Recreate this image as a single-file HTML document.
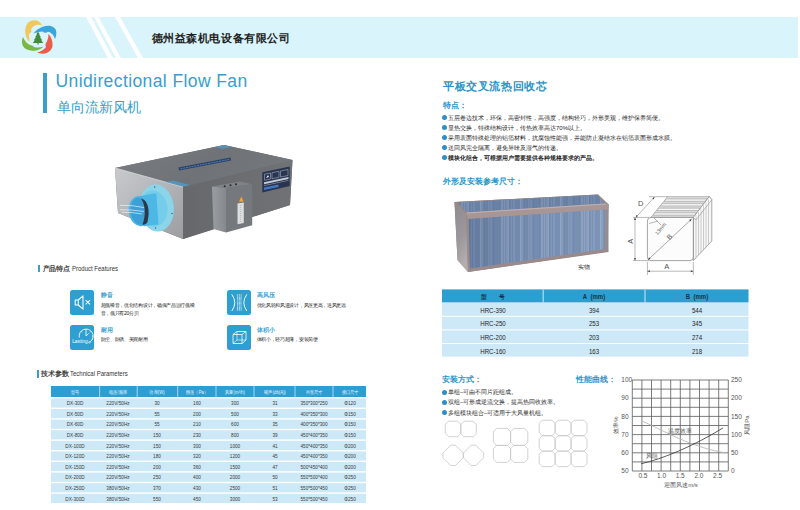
<!DOCTYPE html>
<html><head><meta charset="utf-8">
<style>
*{margin:0;padding:0;box-sizing:border-box}
html,body{width:800px;height:510px;overflow:hidden;background:#fff}
body{position:relative;font-family:"Liberation Sans",sans-serif;color:#333}
.a{position:absolute;white-space:nowrap}
#band{left:0;top:17px;width:798px;height:41px;background:#d9f4fb}
.co{left:151.5px;top:31px;font-size:11px;font-weight:bold;color:#222;letter-spacing:0.6px}
.vbar{background:#3a9fcc}
.t1{left:55.5px;top:71px;font-size:17.5px;letter-spacing:0.4px;color:#3a9dcc}
.t2{left:56.5px;top:99px;font-size:14px;color:#3a9dcc}
.sec{font-size:6.8px;color:#444;font-weight:bold;letter-spacing:-0.1px}
.sec i{font-style:normal;font-weight:normal;display:inline-block;transform-origin:0 50%;transform:scaleX(0.75);font-size:8px;color:#333;letter-spacing:0}
.tc{position:absolute;white-space:nowrap;transform:translateX(-50%) scaleX(0.84);line-height:1}
.th1{font-size:5px;color:#e8f5fb}
.td1{font-size:5.6px;color:#3a3a3a}
.th2{font-size:6.3px;color:#16324a;font-weight:bold;transform:translateX(-50%) scaleX(0.95)}
.td2{font-size:6.6px;color:#262626;transform:translateX(-50%) scaleX(0.93)}
.bl{font-size:6px;color:#262626;line-height:10px}
.bl div{position:relative}
.bl div:before{content:"";position:absolute;left:-6px;top:2.5px;width:5px;height:5px;border-radius:50%;background:#2c8fc8}
.blue{color:#2c94c8}
</style></head><body>
<div id="band" class="a"></div>
<svg class="a" style="left:0;top:17px" width="800" height="41">
<polygon points="86,0 91,0 113,41 108,41" fill="#fff"/>
<polygon points="94,0 98.5,0 121,41 116,41" fill="#fff"/>
<polygon points="115,0 120,0 143,41 138,41" fill="#fff"/>
</svg>
<svg class="a" style="left:18px;top:17px" width="42" height="42" viewBox="0 0 42 42">
<path d="M11,24.5 C7,20 6,12 9,7 C11.5,3.5 16,2.5 20,4 C22,5 23.5,7 24,8.5 C21.5,7.5 18.5,7.5 16,9 C13.5,10.5 12.5,13 13.5,15 C11.5,15.5 10.5,17.5 11,20 C11.3,22 12,23.5 11,24.5 Z" fill="#f2c85a"/>
<path d="M15.5,16.5 C18.5,12.5 24,9 30,8.8 C34.5,8.7 38,11 38.3,15 C38.5,17.5 38,20 37,22 C36,18.5 33.5,15.5 30,14.8 C28.5,16 26,16 24.5,14.5 C21.5,14.5 18.5,15.5 15.5,16.5 Z" fill="#3ba5de"/>
<path d="M30.5,17 C33.5,20 35,25 34.5,29 C34,33 30,36.5 25,36.7 C22.5,36.8 20.5,36.2 19.2,35.5 C22.5,34.5 26,33 28,30 C27,28.5 27.5,26 29,24.5 C30,22 30.5,19.5 30.5,17 Z" fill="#e95e48"/>
<path d="M5,20 C3.5,23.5 3.5,28 6.5,31 C9.5,33.5 14,34 18,33.5 C21,33 23.5,31.5 25.5,29.5 C22.5,30.5 19,31 16,30 C15,28.5 12.5,28 11,27.5 C8.5,26 6.5,23.5 5,20 Z" fill="#78b843"/>
<path d="M20,14.8 L21.8,17.5 H21 L23,20.2 H22 L24.2,23.2 H23.2 L25.2,26 H14.8 L16.8,23.2 H15.8 L18,20.2 H17 L19,17.5 H18.2 Z" fill="#428c3c"/>
<rect x="19.4" y="25.5" width="1.2" height="2" fill="#428c3c"/>
</svg>
<div class="a co">德州益森机电设备有限公司</div>

<div class="a vbar" style="left:43px;top:73px;width:3.5px;height:40px"></div>
<div class="a t1">Unidirectional Flow Fan</div>
<div class="a t2">单向流新风机</div>


<svg class="a" style="left:0;top:0" width="800" height="510" viewBox="0 0 800 510">
<defs>
<linearGradient id="gTop" x1="0" y1="0" x2="1" y2="0.3"><stop offset="0" stop-color="#7a7d81"/><stop offset="0.6" stop-color="#6f7276"/><stop offset="1" stop-color="#74777b"/></linearGradient>
<linearGradient id="gLeft" x1="0" y1="0" x2="1" y2="1"><stop offset="0" stop-color="#c9cacd"/><stop offset="0.5" stop-color="#b3b4b8"/><stop offset="1" stop-color="#9c9da1"/></linearGradient>
<linearGradient id="gRight" x1="0" y1="0" x2="1" y2="0"><stop offset="0" stop-color="#66686c"/><stop offset="1" stop-color="#707276"/></linearGradient>
<linearGradient id="gPipe" x1="0" y1="0" x2="1" y2="0"><stop offset="0" stop-color="#3aa6d8"/><stop offset="1" stop-color="#63c2e6"/></linearGradient>
<linearGradient id="gFade" x1="0" y1="0" x2="0" y2="1"><stop offset="0" stop-color="#fff" stop-opacity="0"/><stop offset="1" stop-color="#fff" stop-opacity="0.85"/></linearGradient>
</defs>
<!-- fan box -->
<polygon points="115,168 224,145 292.5,160 290,205 183,239 118,213" fill="#6e7175"/>
<polygon points="115,168 224,145 292.5,160 183,187" fill="url(#gTop)"/>
<polygon points="115,168 183,187 183,239 118,213" fill="url(#gLeft)"/>

<polygon points="183,187 292.5,160 290,205 183,239" fill="url(#gRight)"/>
<line x1="115" y1="168" x2="183" y2="187" stroke="#d8d9dc" stroke-width="0.8"/>

<!-- top label -->
<polygon points="178.5,167.5 230.5,157.5 231,160.5 179,170.5" fill="#2d4164"/><path d="M180.5,168.8 L229,159.5" stroke="#4f86cc" stroke-width="0.9" stroke-dasharray="2 0.8"/>
<polygon points="166,182 183,186.5 190,185 173,180.5" fill="#4aa3dc" opacity="0.7"/>
<polygon points="215,147 224,145 232,147 222,149" fill="#4aa3dc" opacity="0.6"/>
<!-- control panel -->
<polygon points="262.3,172.2 289.7,166.5 289.7,185.9 262.3,192.5" fill="#29344f"/>
<g fill="none" stroke="#c9d3e6" stroke-width="0.5" opacity="0.9">
<path d="M264.5,174.2 L270.5,173 L270.5,179 L264.5,180.2 Z M272,172.7 L279,171.3 L279,177.3 L272,178.7 Z M280.5,171 L288,169.5 L288,175.5 L280.5,177 Z"/>
</g>
<g fill="#e8ecf4"><path d="M266,178 l2,-3 l1,2 z"/><rect x="274" y="173.5" width="3" height="2" transform="skewY(-11) translate(0 52)" opacity="0"/></g>
<polygon points="264,182.2 288.5,177 288.5,179 264,184.2" fill="#dfe5ee" opacity="0.85"/>
<polygon points="264,185.2 288.5,180 288.5,180.7 264,185.9" fill="#b8c4d6" opacity="0.6"/>
<polygon points="264,187.5 278.5,184.5 278.5,187 264,190" fill="#3f78c4"/>
<!-- electric box -->
<defs><linearGradient id="gEL" x1="0" y1="0" x2="1" y2="0"><stop offset="0" stop-color="#9a9da1"/><stop offset="1" stop-color="#85888c"/></linearGradient></defs>
<polygon points="212,186.5 240,181.5 252.2,184.3 226,188" fill="#7f8286"/>
<polygon points="212,186.5 226,188 226,232.5 213.5,229" fill="url(#gEL)"/>
<polygon points="226,188 252.2,184.3 252.2,225.3 226,232.5" fill="#75787c"/>
<circle cx="224.7" cy="186.2" r="1" fill="#2a2c30"/><circle cx="230.5" cy="185.2" r="1" fill="#2a2c30"/><circle cx="236" cy="184.2" r="1" fill="#2a2c30"/>
<polygon points="241.3,196.5 243.6,201.5 239,201.8" fill="#f0a536"/>
<polygon points="237.5,203.5 243.8,202.5 243.8,223 237.5,224.2" fill="#dcdddf"/>
<path d="M240.6,205 V222" stroke="#888" stroke-width="0.4" stroke-dasharray="1 1"/>
<!-- duct flange -->
<ellipse cx="156.5" cy="208" rx="17.3" ry="23.6" fill="#8ad5ea" transform="rotate(-6 156.5 208)"/>
<ellipse cx="153.5" cy="208.5" rx="14" ry="18" fill="#76cdea" transform="rotate(-6 153.5 208.5)"/>
<circle cx="154.7" cy="187" r="0.7" fill="#555"/><circle cx="172" cy="213.5" r="0.7" fill="#555"/><circle cx="155.5" cy="228" r="0.7" fill="#555"/>
<!-- pipe body -->
<polygon points="134.3,197 156.3,193.2 158.5,224.5 143.6,226.2" fill="#4db8e6"/>
<ellipse cx="139.5" cy="211.3" rx="10.8" ry="15" fill="#4ab5e4" transform="rotate(-8 139.5 211.3)"/>
<ellipse cx="139.8" cy="211.3" rx="9.2" ry="13.6" fill="#3c9fd6" transform="rotate(-8 139.8 211.3)"/>
<path d="M141,198.5 C148,200 150,210 147.5,222 C146,224.5 144,225 142.5,224.5 C146,215 145.5,205 141,198.5 Z" fill="#2a3848"/>
<path d="M120,205.3 Q132,205 144,207.5 M120,209.7 Q132,209.5 144,211.5 M122,212.3 Q132,212 142,214" stroke="#e8f4fa" stroke-width="0.9" fill="none" opacity="0.75"/>
</svg>

<!-- section titles -->
<div class="a vbar" style="left:37.5px;top:264.5px;width:2px;height:7.5px"></div>
<div class="a sec" style="left:42.5px;top:263.5px">产品特点 <i>Product Features</i></div>
<div class="a vbar" style="left:36.5px;top:370px;width:2px;height:7.5px"></div>
<div class="a sec" style="left:41px;top:369px">技术参数 <i>Technical Parameters</i></div>


<style>
.ic{position:absolute;width:24.5px;height:25px;background:#2d9fd1;border-radius:2.5px}
.ft{position:absolute;font-size:6px;color:#3d9fcf;font-weight:bold;white-space:nowrap}
.fd{position:absolute;font-size:5px;color:#222;line-height:8.3px;white-space:nowrap;letter-spacing:-0.3px}
</style>
<div class="ic" style="left:69.8px;top:290.2px"><svg width="25" height="25" viewBox="0 0 25 25"><g fill="none" stroke="#fff" stroke-width="1.05" stroke-linejoin="round"><path d="M5.2,10 H8.2 L13,5.8 V19.2 L8.2,15 H5.2 Z"/><path d="M8.2,10 V15"/><path d="M15.6,10.2 L20,14.4 M20,10.2 L15.6,14.4"/></g></svg></div>
<div class="ic" style="left:69.8px;top:324.8px"><svg width="25" height="25" viewBox="0 0 25 25"><g fill="none" stroke="#fff" stroke-width="0.85"><path d="M9.3,12.5 A7,7 0 1 1 20.8,16.3"/><path d="M16,4.3 V11 L18.8,8.4"/><path d="M11.3,6.5 L12,7.4 M20.7,6.5 L20,7.4 M23,11 L22,11.2 M22.5,14.5 L21.5,14.2"/></g><text x="2.4" y="17.9" font-size="5.2" fill="#fff" font-family="Liberation Sans" transform="scale(0.92 1)">Lasting</text><path d="M18,17.5 L20.5,16.3 L19.5,18.5" fill="none" stroke="#fff" stroke-width="0.7"/></svg></div>
<div class="ic" style="left:226.7px;top:290.3px"><svg width="25" height="25" viewBox="0 0 25 25"><g fill="none" stroke="#fff" stroke-width="0.95"><path d="M4.8,4.4 Q10.8,12.7 4.8,21"/><path d="M19.8,4.4 Q13.8,12.7 19.8,21"/><path d="M10.3,4.4 Q11,12.7 10.3,21" stroke-dasharray="0.8 0.45"/><path d="M14.3,4.4 Q13.6,12.7 14.3,21" stroke-dasharray="0.8 0.45"/><path d="M12.3,4.4 V21" stroke-dasharray="0.8 0.45"/></g></svg></div>
<div class="ic" style="left:226.7px;top:324.8px"><svg width="25" height="25" viewBox="0 0 25 25"><g fill="none" stroke="#fff" stroke-width="0.8"><path d="M6,9.5 L10,6.5 H19 V15 L15,18.5 H6 Z"/><path d="M6,9.5 H15 V18.5 M15,9.5 L19,6.5"/><path d="M10,6.5 V15 H19 M10,15 L6,18.5" opacity="0.75"/></g></svg></div>
<div class="ft" style="left:100.5px;top:291px">静音</div>
<div class="fd" style="left:100.5px;top:300.5px">超低噪音，优化结构设计，确保产品运行低噪<br>音，低只有20分贝</div>
<div class="ft" style="left:100.5px;top:325.5px">耐用</div>
<div class="fd" style="left:100.5px;top:335px">防尘、防锈、美观耐用</div>
<div class="ft" style="left:256.5px;top:291px">高风压</div>
<div class="fd" style="left:256.5px;top:300.5px">优化风轮和风道设计，风压更高，送风更远</div>
<div class="ft" style="left:256.5px;top:325.5px">体积小</div>
<div class="fd" style="left:256.5px;top:335px">体积小，轻巧超薄，安装简便</div>

<svg class="a" style="left:0;top:0" width="800" height="510"><rect x="51" y="386" width="315" height="11" fill="#2c9fd0"/><rect x="99.1" y="386" width="1" height="11" fill="#a6d6ec"/><rect x="136.7" y="386" width="1" height="11" fill="#a6d6ec"/><rect x="177.2" y="386" width="1" height="11" fill="#a6d6ec"/><rect x="215.5" y="386" width="1" height="11" fill="#a6d6ec"/><rect x="253.5" y="386" width="1" height="11" fill="#a6d6ec"/><rect x="294.5" y="386" width="1" height="11" fill="#a6d6ec"/><rect x="332.5" y="386" width="1" height="11" fill="#a6d6ec"/><rect x="51" y="398.40" width="315" height="9.2" fill="#cde9f8"/><rect x="51" y="409.00" width="315" height="9.2" fill="#cde9f8"/><rect x="51" y="419.60" width="315" height="9.2" fill="#cde9f8"/><rect x="51" y="430.20" width="315" height="9.2" fill="#cde9f8"/><rect x="51" y="440.80" width="315" height="9.2" fill="#cde9f8"/><rect x="51" y="451.40" width="315" height="9.2" fill="#cde9f8"/><rect x="51" y="462.00" width="315" height="9.2" fill="#cde9f8"/><rect x="51" y="472.60" width="315" height="9.2" fill="#cde9f8"/><rect x="51" y="483.20" width="315" height="9.2" fill="#cde9f8"/><rect x="51" y="493.80" width="315" height="9.2" fill="#cde9f8"/></svg>
<div class="a" style="left:0;top:0;width:800px;height:510px">
<div class="tc th1" style="left:75.3px;top:389.8px">型号</div>
<div class="tc th1" style="left:118.4px;top:389.8px">电压/频率</div>
<div class="tc th1" style="left:157.4px;top:389.8px">功率(W)</div>
<div class="tc th1" style="left:196.8px;top:389.8px">静压（Pa）</div>
<div class="tc th1" style="left:235.0px;top:389.8px">风量(m³/h)</div>
<div class="tc th1" style="left:274.5px;top:389.8px">噪声(db(A))</div>
<div class="tc th1" style="left:314.0px;top:389.8px">外形尺寸</div>
<div class="tc th1" style="left:349.5px;top:389.8px">接口尺寸</div>
<div class="tc td1" style="left:75.3px;top:401.2px">DX-30D</div>
<div class="tc td1" style="left:118.4px;top:401.2px">220V/50Hz</div>
<div class="tc td1" style="left:157.4px;top:401.2px">30</div>
<div class="tc td1" style="left:196.8px;top:401.2px">160</div>
<div class="tc td1" style="left:235.0px;top:401.2px">300</div>
<div class="tc td1" style="left:274.5px;top:401.2px">31</div>
<div class="tc td1" style="left:314.0px;top:401.2px">350*300*250</div>
<div class="tc td1" style="left:349.5px;top:401.2px">Φ120</div>
<div class="tc td1" style="left:75.3px;top:411.8px">DX-50D</div>
<div class="tc td1" style="left:118.4px;top:411.8px">220V/50Hz</div>
<div class="tc td1" style="left:157.4px;top:411.8px">55</div>
<div class="tc td1" style="left:196.8px;top:411.8px">200</div>
<div class="tc td1" style="left:235.0px;top:411.8px">500</div>
<div class="tc td1" style="left:274.5px;top:411.8px">33</div>
<div class="tc td1" style="left:314.0px;top:411.8px">400*350*300</div>
<div class="tc td1" style="left:349.5px;top:411.8px">Φ150</div>
<div class="tc td1" style="left:75.3px;top:422.4px">DX-60D</div>
<div class="tc td1" style="left:118.4px;top:422.4px">220V/50Hz</div>
<div class="tc td1" style="left:157.4px;top:422.4px">55</div>
<div class="tc td1" style="left:196.8px;top:422.4px">210</div>
<div class="tc td1" style="left:235.0px;top:422.4px">600</div>
<div class="tc td1" style="left:274.5px;top:422.4px">35</div>
<div class="tc td1" style="left:314.0px;top:422.4px">400*350*300</div>
<div class="tc td1" style="left:349.5px;top:422.4px">Φ150</div>
<div class="tc td1" style="left:75.3px;top:433.0px">DX-80D</div>
<div class="tc td1" style="left:118.4px;top:433.0px">220V/50Hz</div>
<div class="tc td1" style="left:157.4px;top:433.0px">150</div>
<div class="tc td1" style="left:196.8px;top:433.0px">230</div>
<div class="tc td1" style="left:235.0px;top:433.0px">800</div>
<div class="tc td1" style="left:274.5px;top:433.0px">39</div>
<div class="tc td1" style="left:314.0px;top:433.0px">450*400*350</div>
<div class="tc td1" style="left:349.5px;top:433.0px">Φ150</div>
<div class="tc td1" style="left:75.3px;top:443.6px">DX-100D</div>
<div class="tc td1" style="left:118.4px;top:443.6px">220V/50Hz</div>
<div class="tc td1" style="left:157.4px;top:443.6px">150</div>
<div class="tc td1" style="left:196.8px;top:443.6px">300</div>
<div class="tc td1" style="left:235.0px;top:443.6px">1000</div>
<div class="tc td1" style="left:274.5px;top:443.6px">41</div>
<div class="tc td1" style="left:314.0px;top:443.6px">450*400*350</div>
<div class="tc td1" style="left:349.5px;top:443.6px">Φ200</div>
<div class="tc td1" style="left:75.3px;top:454.2px">DX-120D</div>
<div class="tc td1" style="left:118.4px;top:454.2px">220V/50Hz</div>
<div class="tc td1" style="left:157.4px;top:454.2px">180</div>
<div class="tc td1" style="left:196.8px;top:454.2px">320</div>
<div class="tc td1" style="left:235.0px;top:454.2px">1200</div>
<div class="tc td1" style="left:274.5px;top:454.2px">45</div>
<div class="tc td1" style="left:314.0px;top:454.2px">450*400*350</div>
<div class="tc td1" style="left:349.5px;top:454.2px">Φ200</div>
<div class="tc td1" style="left:75.3px;top:464.8px">DX-150D</div>
<div class="tc td1" style="left:118.4px;top:464.8px">220V/50Hz</div>
<div class="tc td1" style="left:157.4px;top:464.8px">200</div>
<div class="tc td1" style="left:196.8px;top:464.8px">360</div>
<div class="tc td1" style="left:235.0px;top:464.8px">1500</div>
<div class="tc td1" style="left:274.5px;top:464.8px">47</div>
<div class="tc td1" style="left:314.0px;top:464.8px">500*450*400</div>
<div class="tc td1" style="left:349.5px;top:464.8px">Φ200</div>
<div class="tc td1" style="left:75.3px;top:475.4px">DX-200D</div>
<div class="tc td1" style="left:118.4px;top:475.4px">220V/50Hz</div>
<div class="tc td1" style="left:157.4px;top:475.4px">250</div>
<div class="tc td1" style="left:196.8px;top:475.4px">400</div>
<div class="tc td1" style="left:235.0px;top:475.4px">2000</div>
<div class="tc td1" style="left:274.5px;top:475.4px">50</div>
<div class="tc td1" style="left:314.0px;top:475.4px">550*500*400</div>
<div class="tc td1" style="left:349.5px;top:475.4px">Φ250</div>
<div class="tc td1" style="left:75.3px;top:486.0px">DX-250D</div>
<div class="tc td1" style="left:118.4px;top:486.0px">380V/50Hz</div>
<div class="tc td1" style="left:157.4px;top:486.0px">370</div>
<div class="tc td1" style="left:196.8px;top:486.0px">430</div>
<div class="tc td1" style="left:235.0px;top:486.0px">2500</div>
<div class="tc td1" style="left:274.5px;top:486.0px">51</div>
<div class="tc td1" style="left:314.0px;top:486.0px">550*500*450</div>
<div class="tc td1" style="left:349.5px;top:486.0px">Φ250</div>
<div class="tc td1" style="left:75.3px;top:496.6px">DX-300D</div>
<div class="tc td1" style="left:118.4px;top:496.6px">380V/50Hz</div>
<div class="tc td1" style="left:157.4px;top:496.6px">550</div>
<div class="tc td1" style="left:196.8px;top:496.6px">450</div>
<div class="tc td1" style="left:235.0px;top:496.6px">3000</div>
<div class="tc td1" style="left:274.5px;top:496.6px">53</div>
<div class="tc td1" style="left:314.0px;top:496.6px">550*500*450</div>
<div class="tc td1" style="left:349.5px;top:496.6px">Φ250</div>
</div>

<!-- right page -->
<div class="a blue" style="left:443px;top:78.5px;font-size:11.4px;font-weight:bold;letter-spacing:0.6px">平板交叉流热回收芯</div>
<div class="a blue" style="left:443px;top:99.5px;font-size:8px;font-weight:bold">特点：</div>
<div class="a bl" style="left:448px;top:112.8px">
<div>五层卷边技术，环保，高密封性，高强度，结构轻巧，外形美观，维护保养简便。</div>
<div>显热交换，特殊结构设计，传热效率高达70%以上。</div>
<div>采用表面特殊处理的铝箔材料，抗腐蚀性能强，并能防止凝结水在铝箔表面形成水膜。</div>
<div>送回风完全隔离，避免异味及湿气的传递。</div>
<div style="font-weight:bold;color:#222">模块化组合，可根据用户需要提供各种规格要求的产品。</div>
</div>
<div class="a blue" style="left:442.5px;top:175.5px;font-size:8px;font-weight:bold">外形及安装参考尺寸：</div>


<svg class="a" style="left:0;top:0" width="800" height="510" viewBox="0 0 800 510">
<defs>
<pattern id="stripes" width="40" height="10" patternUnits="userSpaceOnUse"><rect width="40" height="10" fill="#7089b0"/><rect x="0.0" width="0.7" height="10" fill="#a0b2cc" opacity="0.9"/><rect x="1.5" width="1" height="10" fill="#a0b2cc" opacity="0.7"/><rect x="2.9" width="0.5" height="10" fill="#7089ae" opacity="0.7"/><rect x="4.2" width="0.7" height="10" fill="#65809f" opacity="0.7"/><rect x="6.5" width="1.3" height="10" fill="#65809f" opacity="0.5"/><rect x="8.6" width="0.7" height="10" fill="#a0b2cc" opacity="0.7"/><rect x="9.7" width="0.5" height="10" fill="#6d86ab" opacity="0.9"/><rect x="10.6" width="1" height="10" fill="#8aa2c4" opacity="0.7"/><rect x="13.2" width="1.3" height="10" fill="#65809f" opacity="0.7"/><rect x="16.1" width="1.3" height="10" fill="#6d86ab" opacity="0.7"/><rect x="17.8" width="0.5" height="10" fill="#6d86ab" opacity="0.7"/><rect x="19.1" width="1" height="10" fill="#65809f" opacity="0.7"/><rect x="21.3" width="1.3" height="10" fill="#a0b2cc" opacity="0.7"/><rect x="23.8" width="1.3" height="10" fill="#a0b2cc" opacity="0.5"/><rect x="26.3" width="0.5" height="10" fill="#93a9c8" opacity="0.9"/><rect x="27.6" width="1" height="10" fill="#a0b2cc" opacity="0.9"/><rect x="29.0" width="0.7" height="10" fill="#65809f" opacity="0.9"/><rect x="30.9" width="1" height="10" fill="#8aa2c4" opacity="0.5"/><rect x="33.5" width="1.3" height="10" fill="#8aa2c4" opacity="0.7"/><rect x="35.2" width="1.3" height="10" fill="#6d86ab" opacity="0.5"/><rect x="37.7" width="1.3" height="10" fill="#7089ae" opacity="0.5"/><rect x="39.4" width="0.5" height="10" fill="#7089ae" opacity="0.9"/></pattern>
<linearGradient id="gCasL" x1="0" y1="0" x2="0.3" y2="1"><stop offset="0" stop-color="#8f8a8e"/><stop offset="0.6" stop-color="#9c979a"/><stop offset="1" stop-color="#b3adb0"/></linearGradient>
<linearGradient id="gShade" x1="0" y1="0" x2="1" y2="0"><stop offset="0" stop-color="#2a3550" stop-opacity="0.2"/><stop offset="0.5" stop-color="#a8b4c8" stop-opacity="0.1"/><stop offset="1" stop-color="#c8d2e2" stop-opacity="0.15"/></linearGradient>
</defs>
<polygon points="454.5,202 598,194.5 608.5,204.5 608.5,252 468,272 457.5,260" fill="#978587"/>
<polygon points="454.5,202 598,194.5 608.5,204.5 466,213.5" fill="#988789"/>
<polygon points="458,202.5 597,195 604.5,203.5 466.5,212.5" fill="url(#stripes)"/>
<polygon points="458,202.5 597,195 604.5,203.5 466.5,212.5" fill="#56688a" opacity="0.22"/>
<polygon points="454.5,202 466,213.5 468,272 457.5,260" fill="url(#gCasL)"/>
<polygon points="466,212.5 608.5,204 607.5,251.5 468,272" fill="#9b8a8c"/>
<polygon points="466,212.5 604.5,203.5 608.5,204.5 608.5,209.5 468,219" fill="#a89697"/>
<line x1="467" y1="213" x2="606" y2="204" stroke="#c5b9b9" stroke-width="0.8"/>
<polygon points="468.5,219 605.5,209.5 605,249 470,268.5" fill="url(#stripes)"/>
<polygon points="468.5,219 605.5,209.5 605,249 470,268.5" fill="url(#gShade)"/>
</svg>
<div class="a" style="left:578px;top:263px;font-size:6px;color:#333">实物</div>
<svg class="a" style="left:620px;top:190px" width="110" height="90" viewBox="0 0 110 90">
<g fill="none" stroke="#707070" stroke-width="0.6">
<path d="M31,27.4 L47.7,6.7 H89.2 L73.3,27.4 Z" fill="#f6f6f6"/>
<path d="M73.3,27.4 L89.2,6.7 L91.8,9.7 V51 L73.3,70.6 Z" fill="#f6f6f6"/>
<polygon points="47.70,6.70 89.20,6.70 87.43,9.00 45.84,9.00" fill="#d9d9d9" stroke="none"/><polygon points="43.99,11.30 85.67,11.30 83.90,13.60 42.13,13.60" fill="#d9d9d9" stroke="none"/><polygon points="40.28,15.90 82.13,15.90 80.37,18.20 38.42,18.20" fill="#d9d9d9" stroke="none"/><polygon points="36.57,20.50 78.60,20.50 76.83,22.80 34.71,22.80" fill="#d9d9d9" stroke="none"/><polygon points="32.86,25.10 75.07,25.10 73.30,27.40 31.00,27.40" fill="#d9d9d9" stroke="none"/><path d="M45.84,9.00 H87.43 M43.99,11.30 H85.67 M42.13,13.60 H83.90 M40.28,15.90 H82.13 M38.42,18.20 H80.37 M36.57,20.50 H78.60 M34.71,22.80 H76.83 M32.86,25.10 H75.07" stroke="#8a8a8a" stroke-width="0.45"/><path d="M89.2,6.7 L91.8,9.7 L75.8,30 L73.3,27.4 Z" fill="#fff" stroke="#707070" stroke-width="0.5"/>
<path d="M76,25 V67.5 M78.5,22 V65 M81,18.5 V62.5 M83.5,15.5 V60 M86,12.5 V57 M88.5,9.5 V54" stroke="#a0a0a0" stroke-width="0.5"/>
<path d="M31,27.4 Q27.4,27.4 27.4,31 V67 Q27.4,70.6 31,70.6 H70 Q73.3,70.6 73.3,67 V27.4 Z" fill="#fcfcfc" stroke="#6a6a6a"/>
<path d="M15,27.4 V70.6 M13,27.4 H29 M13,70.6 H29" stroke-width="0.5"/>
<path d="M27.4,72 V85 M73.3,72 V85 M27.4,81.2 H73.3" stroke-width="0.5"/>
<path d="M15.9,27.4 L34.4,7 M29,6.7 H48" stroke-width="0.5"/>
<path d="M28.2,69.7 L71.5,29.1" stroke-width="0.6"/>
<path d="M29,33.5 L38,31 M34,28 L41,35" stroke-width="0.5"/>
</g>
<g fill="#444" stroke="none">
<path d="M15,27.4 l-1,2.5 h2 z M15,70.6 l-1,-2.5 h2 z M27.4,81.2 l2.5,-1 v2 z M73.3,81.2 l-2.5,-1 v2 z M15.9,27.4 l0.6,-2.6 1.4,1.3 z M34.4,7 l-0.6,2.6 -1.4,-1.3 z M28.2,69.7 l0.8,-2.5 1.6,1.6 z M71.5,29.1 l-0.8,2.5 -1.6,-1.6 z"/>
</g>
<g fill="#555" font-family="Liberation Sans">
<text x="9.7" y="54" font-size="7.5" transform="rotate(-90 9.7 51.2)" text-anchor="middle">A</text>
<text x="46.8" y="78.6" font-size="7.5" text-anchor="middle">A</text>
<text x="20.8" y="15.8" font-size="7.5" text-anchor="middle">D</text>
<text x="49.4" y="49.3" font-size="7" transform="rotate(-44 49.4 46.8)" text-anchor="middle">B</text>
<text x="40.6" y="40.5" font-size="5" transform="rotate(-50 40.6 38.8)" text-anchor="middle">13mm</text>
</g>
</svg>

<svg class="a" style="left:0;top:0" width="800" height="510"><rect x="442" y="289.4" width="306.5" height="13.2" fill="#2c9fd0"/><rect x="542.6" y="289.4" width="1.2" height="13.2" fill="#b5ddef"/><rect x="644.4" y="289.4" width="1.2" height="13.2" fill="#b5ddef"/><rect x="442" y="302.60" width="306.5" height="13.2" fill="#cde9f8"/><rect x="442" y="316.80" width="306.5" height="12.6" fill="#cde9f8"/><rect x="442" y="330.40" width="306.5" height="12.6" fill="#cde9f8"/><rect x="442" y="344.00" width="306.5" height="12.6" fill="#cde9f8"/></svg>
<div class="tc th2" style="left:492.6px;top:294.3px">型 &nbsp; &nbsp; &nbsp; 号</div>
<div class="tc th2" style="left:594.1px;top:294.3px">A&nbsp;&nbsp;(mm)</div>
<div class="tc th2" style="left:696.8px;top:294.3px">B&nbsp;&nbsp;(mm)</div>
<div class="tc td2" style="left:492.6px;top:307.8px">HRC-390</div>
<div class="tc td2" style="left:594.1px;top:307.8px">394</div>
<div class="tc td2" style="left:696.8px;top:307.8px">544</div>
<div class="tc td2" style="left:492.6px;top:321.4px">HRC-250</div>
<div class="tc td2" style="left:594.1px;top:321.4px">253</div>
<div class="tc td2" style="left:696.8px;top:321.4px">345</div>
<div class="tc td2" style="left:492.6px;top:335.0px">HRC-200</div>
<div class="tc td2" style="left:594.1px;top:335.0px">203</div>
<div class="tc td2" style="left:696.8px;top:335.0px">274</div>
<div class="tc td2" style="left:492.6px;top:348.6px">HRC-160</div>
<div class="tc td2" style="left:594.1px;top:348.6px">163</div>
<div class="tc td2" style="left:696.8px;top:348.6px">218</div>

<div class="a blue" style="left:442px;top:374.5px;font-size:7.6px;font-weight:bold">安装方式：</div>
<div class="a blue" style="left:576px;top:374.5px;font-size:7.6px;font-weight:bold">性能曲线：</div>
<div class="a bl" style="left:448px;top:387px;line-height:10.3px">
<div>单组–可由不同片距组成。</div>
<div>双组–可形成逆流交换，提高热回收效率。</div>
<div>多组模块组合–可适用于大风量机组。</div>
</div>
<svg class="a" style="left:0;top:0" width="800" height="510"><g fill="none" stroke="#c6c6c6" stroke-width="0.8" stroke-linejoin="round"><polygon points="448.50,421.20 457.60,421.20 460.80,424.40 460.80,433.50 457.60,436.70 448.50,436.70 445.30,433.50 445.30,424.40"/><polygon points="464.00,421.20 473.10,421.20 476.30,424.40 476.30,433.50 473.10,436.70 464.00,436.70 460.80,433.50 460.80,424.40"/><polygon points="450.80,445.15 455.40,445.15 463.30,453.05 463.30,457.65 455.40,465.55 450.80,465.55 442.90,457.65 442.90,453.05"/><polygon points="471.20,445.15 475.80,445.15 483.70,453.05 483.70,457.65 475.80,465.55 471.20,465.55 463.30,457.65 463.30,453.05"/><polygon points="496.70,428.40 507.30,428.40 510.60,431.70 510.60,442.10 507.30,445.40 496.70,445.40 493.40,442.10 493.40,431.70"/><polygon points="496.70,445.40 507.30,445.40 510.60,448.70 510.60,459.10 507.30,462.40 496.70,462.40 493.40,459.10 493.40,448.70"/><polygon points="513.90,428.40 524.50,428.40 527.80,431.70 527.80,442.10 524.50,445.40 513.90,445.40 510.60,442.10 510.60,431.70"/><polygon points="513.90,445.40 524.50,445.40 527.80,448.70 527.80,459.10 524.50,462.40 513.90,462.40 510.60,459.10 510.60,448.70"/><polygon points="542.30,420.20 552.03,420.20 555.13,423.30 555.13,432.57 552.03,435.67 542.30,435.67 539.20,432.57 539.20,423.30"/><polygon points="542.30,435.67 552.03,435.67 555.13,438.77 555.13,448.04 552.03,451.14 542.30,451.14 539.20,448.04 539.20,438.77"/><polygon points="542.30,451.14 552.03,451.14 555.13,454.24 555.13,463.51 552.03,466.61 542.30,466.61 539.20,463.51 539.20,454.24"/><polygon points="558.23,420.20 567.96,420.20 571.06,423.30 571.06,432.57 567.96,435.67 558.23,435.67 555.13,432.57 555.13,423.30"/><polygon points="558.23,435.67 567.96,435.67 571.06,438.77 571.06,448.04 567.96,451.14 558.23,451.14 555.13,448.04 555.13,438.77"/><polygon points="558.23,451.14 567.96,451.14 571.06,454.24 571.06,463.51 567.96,466.61 558.23,466.61 555.13,463.51 555.13,454.24"/><polygon points="574.16,420.20 583.89,420.20 586.99,423.30 586.99,432.57 583.89,435.67 574.16,435.67 571.06,432.57 571.06,423.30"/><polygon points="574.16,435.67 583.89,435.67 586.99,438.77 586.99,448.04 583.89,451.14 574.16,451.14 571.06,448.04 571.06,438.77"/><polygon points="574.16,451.14 583.89,451.14 586.99,454.24 586.99,463.51 583.89,466.61 574.16,466.61 571.06,463.51 571.06,454.24"/></g></svg>
<svg class="a" style="left:0;top:0" width="800" height="510"><path d="M632.30,380.0 V471.0 M632.3,380.00 H728.3 M641.90,380.0 V471.0 M632.3,389.10 H728.3 M651.50,380.0 V471.0 M632.3,398.20 H728.3 M661.10,380.0 V471.0 M632.3,407.30 H728.3 M670.70,380.0 V471.0 M632.3,416.40 H728.3 M680.30,380.0 V471.0 M632.3,425.50 H728.3 M689.90,380.0 V471.0 M632.3,434.60 H728.3 M699.50,380.0 V471.0 M632.3,443.70 H728.3 M709.10,380.0 V471.0 M632.3,452.80 H728.3 M718.70,380.0 V471.0 M632.3,461.90 H728.3 M728.30,380.0 V471.0 M632.3,471.00 H728.3" stroke="#5a5a5a" stroke-width="0.8" fill="none"/><path d="M642.5,421.3 C665,431 690,447 726,453" stroke="#b4b4b4" stroke-width="0.85" fill="none"/><path d="M641.3,463.7 C662,459 692,447 723.1,427.9" stroke="#333" stroke-width="0.8" fill="none"/><g font-family="Liberation Sans" font-size="6.5" fill="#555"><text x="621.3" y="382.0">100</text><text x="621.3" y="400.2">90</text><text x="621.3" y="418.5">80</text><text x="621.3" y="436.7">70</text><text x="621.3" y="455.0">60</text><text x="621.3" y="473.2">50</text><text x="731" y="382.0">250</text><text x="731" y="400.2">200</text><text x="731" y="418.5">150</text><text x="731" y="436.7">100</text><text x="731" y="455.0">50</text><text x="731" y="473.2">0</text><text x="642.9" y="477.5" text-anchor="middle">0.5</text><text x="661.6" y="477.5" text-anchor="middle">1.0</text><text x="680.2" y="477.5" text-anchor="middle">1.5</text><text x="698.9" y="477.5" text-anchor="middle">2.0</text><text x="717.6" y="477.5" text-anchor="middle">2.5</text></g><g font-family="Liberation Sans" font-size="6" fill="#555"><text x="681" y="487" text-anchor="middle">迎面风速m/s</text><text x="616" y="427" transform="rotate(-90 616 425)" text-anchor="middle">效率%</text><text x="747" y="427" transform="rotate(-90 747 425)" text-anchor="middle">风阻Pa</text><text x="679.5" y="433" text-anchor="middle">温度效率</text><text x="652" y="457.5" text-anchor="middle">风阻</text></g></svg>
</body></html>
